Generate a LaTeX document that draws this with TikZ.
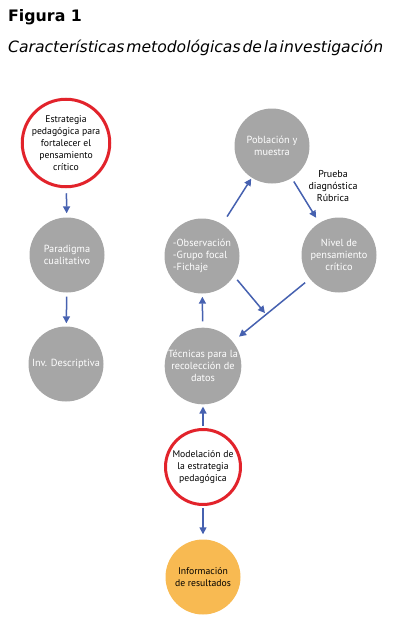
\documentclass[tikz,border=0pt]{standalone}
\usepackage{fontspec}
\setmainfont{PT Sans}
\newfontfamily\titlefont{DejaVu Sans}
\usetikzlibrary{arrows.meta}
\definecolor{circgray}{RGB}{166,166,166}
\definecolor{ringred}{RGB}{226,35,43}
\definecolor{resorange}{RGB}{248,186,82}
\definecolor{arrblue}{RGB}{70,97,176}
\tikzset{
  circ/.style={circle, minimum size=75pt, inner sep=0pt, align=center,
    font=\fontsize{9.7}{12}\selectfont},
  graycirc/.style={circ, fill=circgray, text=white, font=\fontsize{10.3}{12.2}\selectfont},
  redcirc/.style={circ, draw=ringred, line width=3pt, fill=white, text=black, minimum size=75pt},
  orangecirc/.style={circ, fill=resorange, text=black},
  arr/.style={draw=arrblue, line width=1.5pt, -{Triangle[length=7pt,width=7pt]}},
}
\begin{document}
\begin{tikzpicture}[x=1pt,y=-1pt]
\useasboundingbox (0,0) rectangle (402,640);
\node[anchor=base west, inner sep=0pt, font=\titlefont\bfseries\fontsize{15.8}{18}\selectfont] (title) at (8,21) {Figura 1};
\node[anchor=base west, inner sep=0pt, font=\titlefont\itshape\fontsize{15.6}{18}\selectfont] (subtitle) at (8,52)
  {\spaceskip=0.12em\relax Características metodológicas de la investigación};

\node[redcirc] (estr) at (66,143) {Estrategia\\pedagógica para\\fortalecer el\\pensamiento\\crítico};
\node[graycirc] (par) at (67,255) {Paradigma\\cualitativo};
\node[graycirc] (inv) at (66,364) {Inv. Descriptiva};

\node[graycirc] (pob) at (272,146) {Población y\\muestra};
\node[graycirc, align=left] (obs) at (202,256) {-Observación\\-Grupo focal\\-Fichaje};
\node[graycirc] (niv) at (339,255) {Nivel de\\pensamiento\\crítico};
\node[graycirc] (tec) at (203,366) {Técnicas para la\\recolección de\\datos};
\node[redcirc] (mod) at (203,467) {Modelación de\\la estrategia\\pedagógica};
\node[orangecirc] (inf) at (203,577) {Información\\de resultados};

\node[align=center, font=\fontsize{10}{12.2}\selectfont, inner sep=0pt] (lbl) at (333,186) {Prueba\\diagnóstica\\Rúbrica};

\coordinate (free) at (265,313);

\draw[arr, shorten <=5pt, shorten >=4pt] (estr) -- (par);
\draw[arr, shorten <=4pt, shorten >=3pt] (par) -- (inv);
\draw[arr, shorten <=9pt, shorten >=1pt] (obs) -- (pob);
\draw[arr, shorten <=4pt, shorten >=6pt] (pob) -- (niv);
\draw[arr, shorten <=5pt] (obs.-32) -- (free);
\draw[arr, shorten <=6pt, shorten >=8pt] (niv) -- (tec);
\draw[arr, shorten <=6pt, shorten >=3pt] (tec) -- (obs);
\draw[arr, shorten <=2pt, shorten >=2pt] (mod) -- (tec);
\draw[arr, shorten <=2pt, shorten >=5pt] (mod) -- (inf);
\end{tikzpicture}
\end{document}
